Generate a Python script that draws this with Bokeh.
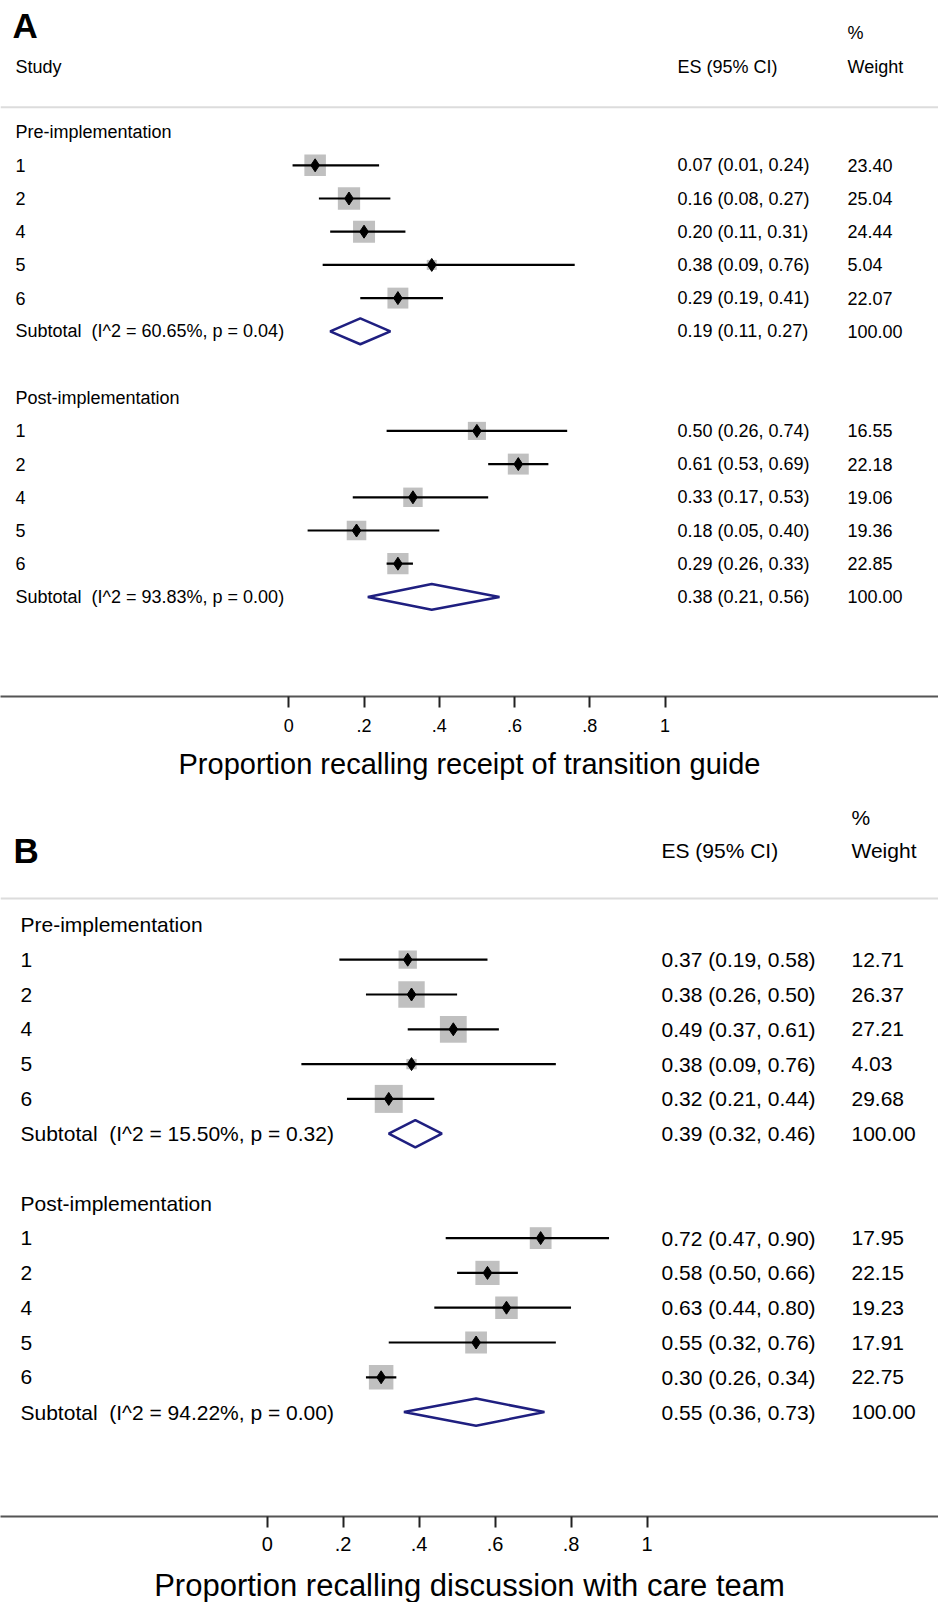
from bokeh.plotting import figure
from bokeh.layouts import column
from bokeh.models import Range1d, FixedTicker, Span, ColumnDataSource
from bokeh.embed import file_html
from bokeh.resources import INLINE
from bokeh.core.properties import value

# ---------------- data ----------------
studies = ["1", "2", "4", "5", "6"]

# Panel A: Proportion recalling receipt of transition guide
a_pre_es = [0.07, 0.16, 0.20, 0.38, 0.29]
a_pre_lo = [0.01, 0.08, 0.11, 0.09, 0.19]
a_pre_hi = [0.24, 0.27, 0.31, 0.76, 0.41]
a_pre_w = [23.40, 25.04, 24.44, 5.04, 22.07]
a_pre_sub = [0.19, 0.11, 0.27]
a_pre_i2, a_pre_p = 60.65, 0.04

a_post_es = [0.50, 0.61, 0.33, 0.18, 0.29]
a_post_lo = [0.26, 0.53, 0.17, 0.05, 0.26]
a_post_hi = [0.74, 0.69, 0.53, 0.40, 0.33]
a_post_w = [16.55, 22.18, 19.06, 19.36, 22.85]
a_post_sub = [0.38, 0.21, 0.56]
a_post_i2, a_post_p = 93.83, 0.00

# Panel B: Proportion recalling discussion with care team
b_pre_es = [0.37, 0.38, 0.49, 0.38, 0.32]
b_pre_lo = [0.19, 0.26, 0.37, 0.09, 0.21]
b_pre_hi = [0.58, 0.50, 0.61, 0.76, 0.44]
b_pre_w = [12.71, 26.37, 27.21, 4.03, 29.68]
b_pre_sub = [0.39, 0.32, 0.46]
b_pre_i2, b_pre_p = 15.50, 0.32

b_post_es = [0.72, 0.58, 0.63, 0.55, 0.30]
b_post_lo = [0.47, 0.50, 0.44, 0.32, 0.26]
b_post_hi = [0.90, 0.66, 0.80, 0.76, 0.34]
b_post_w = [17.95, 22.15, 19.23, 17.91, 22.75]
b_post_sub = [0.55, 0.36, 0.73]
b_post_i2, b_post_p = 94.22, 0.00

group_names = ["Pre-implementation", "Post-implementation"]
tick_values = [0, 0.2, 0.4, 0.6, 0.8, 1]
tick_labels = ["0", ".2", ".4", ".6", ".8", "1"]

FONT = "Liberation Sans"
W = 938


def make_panel(letter, show_study, groups, xlabel, px_per_unit, zero_px,
               frame_h, row_px, box_k, fs, tick_fs, label_fs,
               es_px, wt_px, lab_px, letter_px, min_bottom, tick_standoff,
               label_standoff, letter_y, pct_y, head_y, line_y):
    x0 = -zero_px / px_per_unit
    x1 = x0 + W / px_per_unit
    ytop = 16 - frame_h / row_px

    p = figure(frame_width=W, frame_height=frame_h, output_backend="svg",
               toolbar_location=None, x_range=Range1d(x0, x1),
               y_range=Range1d(16, ytop), y_axis_location=None,
               min_border_left=0, min_border_right=0, min_border_top=0,
               min_border_bottom=min_bottom)
    p.outline_line_color = None
    p.xgrid.visible = False
    p.ygrid.visible = False
    p.background_fill_color = "white"
    p.border_fill_color = "white"

    def px(page_x):
        return x0 + page_x / px_per_unit

    # header line
    p.add_layout(Span(location=line_y, dimension="width",
                      line_color="#dcdcdc", line_width=2))

    def txt(x, y, s, size, style="normal", align="left"):
        p.text(x=[x], y=[y], text=[s], text_font=value(FONT),
               text_font_size=size, text_font_style=style,
               text_baseline="middle", text_align=align, text_color="black")

    txt(px(letter_px), letter_y, letter, "35px", "bold")
    if show_study:
        txt(px(lab_px), head_y, "Study", fs)
    txt(px(es_px), head_y, "ES (95% CI)", fs)
    txt(px(wt_px), pct_y, "%", fs)
    txt(px(wt_px), head_y, "Weight", fs)

    for gi, (es, lo, hi, w, sub, i2, pv) in enumerate(groups):
        base = gi * 8
        txt(px(lab_px), base - 1, group_names[gi], fs)
        ys = [base + k for k in range(len(es))]
        src = ColumnDataSource(dict(
            y=ys, es=es, lo=lo, hi=hi,
            side=[box_k * (v ** 0.5) for v in w],
            lab=studies,
            est=[f"{a:.2f} ({b:.2f}, {c:.2f})" for a, b, c in zip(es, lo, hi)],
            wt=[f"{v:.2f}" for v in w],
            lx=[px(lab_px)] * len(es), ex=[px(es_px)] * len(es),
            wx=[px(wt_px)] * len(es)))
        p.rect(x="es", y="y", width="side", height="side",
               width_units="screen", height_units="screen",
               fill_color="#c0c0c0", line_color=None, source=src)
        p.segment(x0="lo", y0="y", x1="hi", y1="y", line_color="black",
                  line_width=2.2, source=src)
        p.scatter(x="es", y="y", marker="diamond", size=13,
                  fill_color="black", line_color="black", source=src)
        for col, xcol in (("lab", "lx"), ("est", "ex"), ("wt", "wx")):
            p.text(x=xcol, y="y", text=col, source=src,
                   text_font=value(FONT), text_font_size=fs,
                   text_baseline="middle", text_align="left",
                   text_color="black")
        # subtotal diamond
        sy = base + len(es)
        h = 0.39
        p.patch(x=[sub[1], sub[0], sub[2], sub[0]],
                y=[sy, sy - h, sy, sy + h], fill_color=None,
                line_color="#1f1f80", line_width=2.5)
        txt(px(lab_px), sy,
            f"Subtotal\u00a0 (I^2 = {i2:.2f}%, p = {pv:.2f})", fs)
        txt(px(es_px), sy, f"{sub[0]:.2f} ({sub[1]:.2f}, {sub[2]:.2f})", fs)
        txt(px(wt_px), sy, f"{100:.2f}", fs)

    ax = p.xaxis[0]
    ax.ticker = FixedTicker(ticks=tick_values)
    ax.major_label_overrides = {v: l for v, l in zip(tick_values, tick_labels)}
    ax.axis_line_color = "#555555"
    ax.axis_line_width = 2
    ax.major_tick_line_color = "#222222"
    ax.major_tick_line_width = 2
    ax.major_tick_out = 11
    ax.major_tick_in = 0
    ax.minor_tick_line_color = None
    ax.major_label_text_font = FONT
    ax.major_label_text_font_size = tick_fs
    ax.major_label_text_color = "black"
    ax.major_label_standoff = tick_standoff
    ax.axis_label = xlabel
    ax.axis_label_text_font = FONT
    ax.axis_label_text_font_size = label_fs
    ax.axis_label_text_font_style = "normal"
    ax.axis_label_text_color = "black"
    ax.axis_label_standoff = label_standoff
    return p


groups_a = [
    (a_pre_es, a_pre_lo, a_pre_hi, a_pre_w, a_pre_sub, a_pre_i2, a_pre_p),
    (a_post_es, a_post_lo, a_post_hi, a_post_w, a_post_sub, a_post_i2, a_post_p),
]
groups_b = [
    (b_pre_es, b_pre_lo, b_pre_hi, b_pre_w, b_pre_sub, b_pre_i2, b_pre_p),
    (b_post_es, b_post_lo, b_post_hi, b_post_w, b_post_sub, b_post_i2, b_post_p),
]

pa = make_panel("A", True, groups_a, "Proportion recalling receipt of transition guide",
                px_per_unit=376.2, zero_px=288.3, frame_h=696, row_px=33.2,
                box_k=4.45, fs="18px", tick_fs="18px", label_fs="29px",
                es_px=677, wt_px=847, lab_px=15, letter_px=12, min_bottom=89,
                tick_standoff=11, label_standoff=13,
                letter_y=-4.22, pct_y=-3.98, head_y=-2.95, line_y=-1.75)

pb = make_panel("B", False, groups_b, "Proportion recalling discussion with care team",
                px_per_unit=379.8, zero_px=266.7, frame_h=731, row_px=34.8,
                box_k=5.14, fs="21px", tick_fs="20px", label_fs="31px",
                es_px=661, wt_px=851, lab_px=20, letter_px=13, min_bottom=86,
                tick_standoff=9, label_standoff=14,
                letter_y=-3.13, pct_y=-4.08, head_y=-3.13, line_y=-1.76)

layout = column(pa, pb, spacing=0)
open("out.html", "w").write(file_html(layout, INLINE))
